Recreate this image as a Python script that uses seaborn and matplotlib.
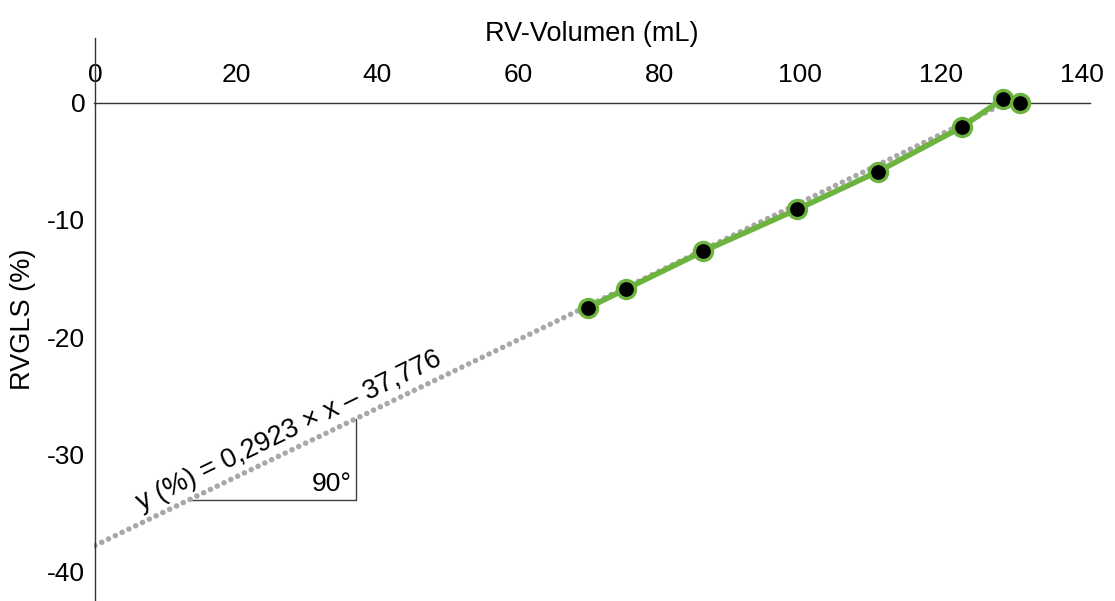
import numpy as np
import pandas as pd
import seaborn as sns
import matplotlib.pyplot as plt

# measured points
volume = [69.9, 75.3, 86.2, 99.6, 111.0, 122.9, 128.7, 131.2]
rvgls = [-17.5, -15.9, -12.7, -9.1, -5.9, -2.1, 0.3, 0.0]

# regression y = slope * x + intercept
slope = 0.2923
intercept = -37.776
fit_range = [0, 128.5]
# right-angle marker under the regression line
tri_x = [13.2, 37.0]

x_ticks = [0, 20, 40, 60, 80, 100, 120, 140]
y_ticks = [0, -10, -20, -30, -40]

GREEN = '#6db33f'
GREY = '#a8a8a8'

sns.set_theme(style='white')
plt.rcParams['font.family'] = ['Liberation Sans', 'DejaVu Sans']
plt.rcParams['axes.unicode_minus'] = False

fig = plt.figure(figsize=(11.15, 6.01), dpi=100)
ax = fig.add_axes([93.5 / 1115, 0, (1090 - 93.5) / 1115, 563 / 601])

df = pd.DataFrame({'volume': volume, 'rvgls': rvgls})
fit_x = np.array(fit_range, dtype=float)
fit = pd.DataFrame({'x': fit_x, 'y': slope * fit_x + intercept})

sns.lineplot(data=fit, x='x', y='y', ax=ax, color=GREY, linewidth=4.0,
             linestyle=(0, (0.01, 1.35)), dash_capstyle='round', zorder=2)
sns.lineplot(data=df, x='volume', y='rvgls', ax=ax, color=GREEN, linewidth=4.0,
             marker='o', markersize=13, markerfacecolor='black',
             markeredgecolor=GREEN, markeredgewidth=2.4, zorder=3)

# triangle
ty = [slope * v + intercept for v in tri_x]
ax.plot([tri_x[0], tri_x[1], tri_x[1]], [ty[0], ty[0], ty[1]],
        color='#404040', linewidth=1.0, zorder=1)
ax.annotate('90°', (tri_x[1], ty[0]), xytext=(-3, 3), textcoords='offset points',
            ha='right', va='bottom', fontsize=19, color='black')

ax.set_xlim(-0.2, 141.1)
ax.set_ylim(-42.5, 5.5)

ax.text(27.5, -28.0, 'y (%) = 0,2923 × x – 37,776', fontsize=19.5,
        rotation=np.degrees(np.arctan(slope)), transform_rotates_text=True,
        rotation_mode='anchor', ha='center', va='center', color='black')

for s in ['right', 'bottom']:
    ax.spines[s].set_visible(False)
ax.spines['top'].set_position(('data', 0))
ax.spines['left'].set_position(('data', 0))
for s in ['top', 'left']:
    ax.spines[s].set_color('#333333')
    ax.spines[s].set_linewidth(1.0)

ax.xaxis.set_ticks_position('top')
ax.xaxis.set_label_position('top')
ax.set_xticks(x_ticks)
ax.set_yticks(y_ticks)
ax.tick_params(axis='x', length=0, pad=11, labelsize=19, colors='black')
ax.tick_params(axis='y', length=0, pad=7, labelsize=19, colors='black')
ax.set_xlabel('RV-Volumen (mL)', fontsize=19.5, labelpad=16, color='black')
ax.set_ylabel('RVGLS (%)', fontsize=19.5, labelpad=8, color='black')
ax.grid(False)
ax.patch.set_alpha(0)

fig.savefig('out.png', dpi=100)
